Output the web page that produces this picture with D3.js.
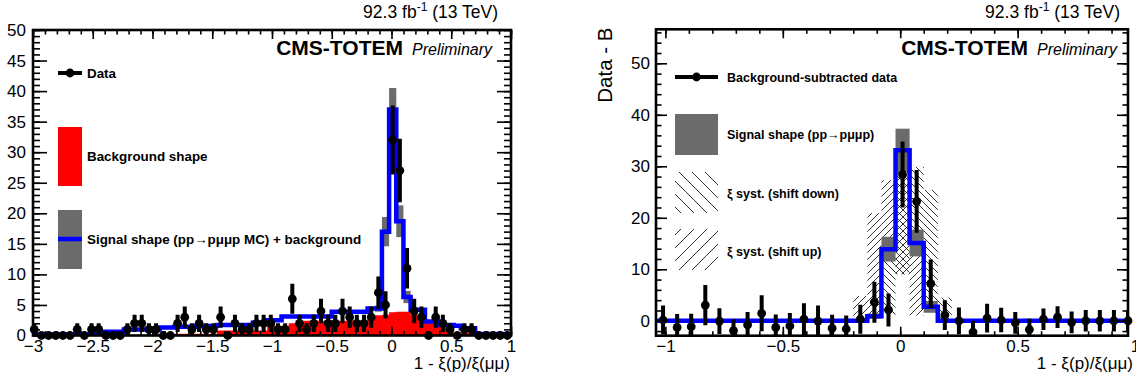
<!DOCTYPE html>
<html>
<head>
<meta charset="utf-8">
<script src="https://cdn.jsdelivr.net/npm/d3@7"></script>
<style>
  body { margin: 0; background: #fff; }
  text { font-family: "Liberation Sans", Arial, Helvetica, sans-serif; }
</style>
</head>
<body>
<div id="chart"></div>
<script>
// binning (both panels use 0.06 wide bins)
const binW = 0.06;
const leftBinLo = -3.02;
const rightBinLo = -1.04;

// left panel: data counts, signal+background, background, MC uncertainty
const leftCounts = [1,0,0,0,0,0,1,0,1,1, 0,0,0,1,2,2,1,1,0,0, 2,3,1,2,1,1,3,0,2,1,
                    1,2,2,2,1,1,6,2,1,2, 4,2,2,4,3,2,2,3,7,5, 32,27,11,4,3,0,3,2,1,0,
                    1,1,0,0,0,0,0];
const leftTotal = [0.2,0.2,0.2,0.2,0.2,0.2,0.2,0.2,0.2,0.2,
                   0.6,0.6,0.6,1.0,1.0,1.0,1.0,1.0,1.3,1.3,
                   1.45,1.45,1.45,1.55,1.55,1.55,1.7,1.7,1.7,1.7,
                   1.7,2.1,2.1,2.5,2.5,3.1,3.1,3.1,3.1,3.1,
                   3.1,3.1,3.9,3.9,3.9,3.9,3.9,4.4,4.4,17.0,
                   37.0,18.7,6.3,4.2,4.2,2.3,2.3,1.7,1.7,1.6,
                   1.2,1.2,0.25,0.25,0.25,0.25,0.25];
const leftBkg = [0,0,0,0,0,0,0,0,0,0,
                 0,0,0,0,0,0,0,0,0,0,
                 0.3,0.3,0.3,0.3,0.3,0.3,0.8,0.8,0.8,0.8,
                 0.8,0.8,0.8,1.6,1.6,1.6,2.0,2.0,2.4,2.4,
                 2.4,2.4,2.4,2.4,2.4,2.4,2.4,2.9,3.3,3.4,
                 3.8,3.9,3.9,3.4,2.8,2.0,2.0,1.5,1.2,0.5,
                 0.5,0.5,0,0,0,0,0];
const leftTotalErr = [0,0,0,0,0,0,0,0,0,0, 0,0,0,0,0,0,0,0,0,0, 0,0,0,0,0,0,0,0,0,0,
                      0,0,0,0,0,0,0,0,0,0, 0,0,0,0,0,0,0,0,0.5,2.4, 3.5,2.6,1.0,0.4,0,0,0,0,0,0,
                      0,0,0,0,0,0,0];

// right panel: background-subtracted data and signal shape
const rightData = [0.15,-1.3,-1.15,3.05,-0.05,-1.9,-0.8,1.45,-1.3,-1.0,
                   0.3,-0.05,-1.45,-1.6,0.3,3.6,2.1,28.4,23.2,7.2,
                   1.1,0,-2.2,0.5,0.15,-0.4,-1.7,0.3,0.7,-0.3,
                   0,0,0,0];
const rightErr = [2.8,2.6,2.5,3.9,2.5,2.2,2.5,3.5,2.5,2.5,
                  3.1,3.0,2.6,2.6,2.8,4.0,3.2,6.4,6.1,4.7,
                  2.9,2.6,2.2,2.8,2.4,2.1,2.1,2.1,2.1,2.1,
                  2.1,2.1,2.1,2.1];
const rightSig = [0,0,0,0,0,0,0,0,0,0, 0,0,0,0,0,0.9,13.9,33.1,15.1,2.7, 0,0,0,0,0,0,0,0,0,0, 0,0,0,0];
const rightSigErr = [0,0,0,0,0,0,0,0,0,0, 0,0,0,0,0,0.5,2.4,4.2,2.6,1.15, 0,0,0,0,0,0,0,0,0,0, 0,0,0,0];

// xi systematic bands (bin index, low, high)
const upBins = [14, 15, 16, 17, 18];
const upLo   = [0, 0.9, 13.9, 9, 1];
const upHi   = [4.8, 20.9, 27.3, 33.1, 15.1];
const downBins = [16, 17, 18, 19, 20];
const downLo   = [1, 9, 15.1, 2.7, 0];
const downHi   = [13.9, 33.1, 29.9, 25.4, 4.5];

// tick values
const leftXTicks = [-3,-2.5,-2,-1.5,-1,-0.5,0,0.5,1];
const leftYTicks = [0,5,10,15,20,25,30,35,40,45,50];
const rightXTicks = [-1,-0.5,0,0.5,1];
const rightYTicks = [0,10,20,30,40,50];

const W = 1136, H = 379;
const svg = d3.select("#chart").append("svg")
    .attr("width", W)
    .attr("height", H);

const defs = svg.append("defs");
function hatch(id, size, down) {
    defs.append("pattern")
        .attr("id", id)
        .attr("patternUnits", "userSpaceOnUse")
        .attr("width", size).attr("height", size)
        .append("path")
        .attr("d", down
            ? `M0,0L${size},${size}M${-size/2},${size/2}L0,${size}M${size},0L${size*1.5},${size/2}`
            : `M0,${size}L${size},0M${-size/2},${size/2}L0,0M${size},${size}L${size*1.5},${size/2}`)
        .attr("stroke", "#000")
        .attr("stroke-width", 0.8);
}
hatch("hUp", 7, false);
hatch("hDown", 7, true);
hatch("hUpLeg", 13, false);
hatch("hDownLeg", 13, true);

const GRAY = "#6b6b6b";
const fmt = d3.format("~g");

function frame(x, y, o) {
    const g = svg.append("g").attr("stroke-width", 1.6);
    const [xa, xb] = x.range();
    const [yb, ya] = y.range();
    const [d0, d1] = x.domain();
    const [e0, e1] = y.domain();
    const xMinor = d3.range(Math.ceil(d0 * 10), Math.floor(d1 * 10) + 1).map(i => i / 10);
    const yMinor = d3.range(Math.ceil(e0 / o.yMinStep), Math.floor(e1 / o.yMinStep) + 1).map(i => i * o.yMinStep);
    const xIn = o.xTicks.filter(v => v >= d0 && v <= d1);

    const style = sel => {
        sel.select(".domain").remove();
        sel.attr("font-family", null).attr("font-size", 17);
        sel.selectAll(".tick line").attr("stroke", "#000");
        sel.selectAll(".tick text").attr("fill", "#000");
    };

    // bottom (with labels) and top
    g.append("g").attr("transform", `translate(0,${yb})`)
        .call(d3.axisBottom(x).tickValues(o.xTicks).tickSize(-9).tickPadding(4).tickFormat(fmt))
        .call(style)
        .call(s => s.selectAll(".tick").filter(v => v > d1 + 1e-9).select("line").remove());
    g.append("g").attr("transform", `translate(0,${yb})`)
        .call(d3.axisBottom(x).tickValues(xMinor).tickSize(-4.5).tickFormat(""))
        .call(style);
    g.append("g").attr("transform", `translate(0,${ya})`)
        .call(d3.axisTop(x).tickValues(xIn).tickSize(-9).tickFormat(""))
        .call(style);
    g.append("g").attr("transform", `translate(0,${ya})`)
        .call(d3.axisTop(x).tickValues(xMinor).tickSize(-4.5).tickFormat(""))
        .call(style);

    // left (with labels) and right
    g.append("g").attr("transform", `translate(${xa},0)`)
        .call(d3.axisLeft(y).tickValues(o.yTicks).tickSize(-o.yMaj).tickPadding(o.yPad).tickFormat(fmt))
        .call(style);
    g.append("g").attr("transform", `translate(${xa},0)`)
        .call(d3.axisLeft(y).tickValues(yMinor).tickSize(-o.yMaj / 2).tickFormat(""))
        .call(style);
    g.append("g").attr("transform", `translate(${xb},0)`)
        .call(d3.axisRight(y).tickValues(o.yTicks).tickSize(-o.yMaj).tickFormat(""))
        .call(style);
    g.append("g").attr("transform", `translate(${xb},0)`)
        .call(d3.axisRight(y).tickValues(yMinor).tickSize(-o.yMaj / 2).tickFormat(""))
        .call(style);

    svg.append("rect")
        .attr("x", xa).attr("y", ya)
        .attr("width", xb - xa).attr("height", yb - ya)
        .attr("fill", "none")
        .attr("stroke", "#000")
        .attr("stroke-width", 2.6);
}

function stepPath(x, y, lo, vals) {
    const pts = [];
    vals.forEach((v, i) => {
        pts.push([x(lo + i * binW), y(v)]);
        pts.push([x(lo + (i + 1) * binW), y(v)]);
    });
    return d3.line()(pts);
}

function headers(xEnd, cmsEnd) {
    const t = svg.append("text")
        .attr("x", xEnd).attr("y", 18)
        .attr("text-anchor", "end")
        .attr("font-size", 17.5);
    t.append("tspan").text("92.3 fb");
    t.append("tspan").attr("dy", -7).attr("font-size", 12).text("-1");
    t.append("tspan").attr("dy", 7).text(" (13 TeV)");

    const c = svg.append("text")
        .attr("x", cmsEnd).attr("y", 55)
        .attr("text-anchor", "end");
    c.append("tspan").attr("font-weight", "bold").attr("font-size", 21).text("CMS-TOTEM");
    c.append("tspan").attr("font-style", "italic").attr("font-size", 16).attr("dx", 9).text("Preliminary");
}

function xTitle(xEnd) {
    svg.append("text")
        .attr("x", xEnd).attr("y", 369)
        .attr("text-anchor", "end")
        .attr("font-size", 17)
        .text("1 - ξ(p)/ξ(μμ)");
}

// error bars go in the clipped group, markers are drawn on top unclipped
function drawPoints(gClip, gTop, x, y, lo, vals, errs) {
    const pts = vals.map((v, i) => ({ x: lo + (i + 0.5) * binW, v, e: errs[i] }))
        .filter(d => d.x <= x.domain()[1] + 1e-9);
    gClip.selectAll(null)
        .data(pts.filter(d => d.e > 0))
        .join("line")
        .attr("x1", d => x(d.x)).attr("x2", d => x(d.x))
        .attr("y1", d => y(d.v - d.e)).attr("y2", d => y(d.v + d.e))
        .attr("stroke", "#000")
        .attr("stroke-width", 4);
    gTop.selectAll(null)
        .data(pts)
        .join("circle")
        .attr("cx", d => x(d.x)).attr("cy", d => y(d.v))
        .attr("r", 4.4)
        .attr("fill", "#000");
}

// ---------------- left panel ----------------
const xL = d3.scaleLinear().domain([-3, 1]).range([33, 511]);
const yL = d3.scaleLinear().domain([0, 50]).range([335.5, 30]);

defs.append("clipPath").attr("id", "clipL")
    .append("rect").attr("x", 33).attr("y", 30).attr("width", 478).attr("height", 305.5);
defs.append("clipPath").attr("id", "clipR")
    .append("rect").attr("x", 656).attr("y", 29.3).attr("width", 472).attr("height", 306.4);

const gL = svg.append("g").attr("clip-path", "url(#clipL)");

// background fill
const bkgPts = [[xL(leftBinLo), yL(0)]];
leftBkg.forEach((v, i) => {
    bkgPts.push([xL(leftBinLo + i * binW), yL(v)]);
    bkgPts.push([xL(leftBinLo + (i + 1) * binW), yL(v)]);
});
bkgPts.push([xL(leftBinLo + leftBkg.length * binW), yL(0)]);
gL.append("path")
    .attr("d", d3.line()(bkgPts) + "Z")
    .attr("fill", "#ff0000");

// MC uncertainty boxes
gL.selectAll(null)
    .data(leftTotal.map((v, i) => ({ i, v, e: leftTotalErr[i] })).filter(d => d.e > 0))
    .join("rect")
    .attr("x", d => xL(leftBinLo + d.i * binW))
    .attr("width", xL(binW) - xL(0))
    .attr("y", d => yL(d.v + d.e))
    .attr("height", d => yL(d.v - d.e) - yL(d.v + d.e))
    .attr("fill", GRAY);

gL.append("path")
    .attr("d", stepPath(xL, yL, leftBinLo, leftTotal))
    .attr("fill", "none")
    .attr("stroke", "#0000ff")
    .attr("stroke-width", 4.5);

frame(xL, yL, { xTicks: leftXTicks, yTicks: leftYTicks, yMinStep: 1, yMaj: 14, yPad: 7 });
const gLTop = svg.append("g");
drawPoints(gL, gLTop, xL, yL, leftBinLo, leftCounts, leftCounts.map(Math.sqrt));
headers(498, 492);
xTitle(510);

// left legend
const legL = svg.append("g");
legL.append("line").attr("x1", 58).attr("x2", 82).attr("y1", 73).attr("y2", 73)
    .attr("stroke", "#000").attr("stroke-width", 4);
legL.append("circle").attr("cx", 70).attr("cy", 73).attr("r", 4.4);
legL.append("text").attr("x", 87).attr("y", 77.5).attr("font-size", 13.4).attr("font-weight", "bold").text("Data");
legL.append("rect").attr("x", 58).attr("y", 127).attr("width", 24).attr("height", 59).attr("fill", "#ff0000");
legL.append("text").attr("x", 87).attr("y", 160.5).attr("font-size", 13.4).attr("font-weight", "bold").text("Background shape");
legL.append("rect").attr("x", 58).attr("y", 210).attr("width", 24).attr("height", 59).attr("fill", GRAY);
legL.append("line").attr("x1", 58).attr("x2", 82).attr("y1", 239).attr("y2", 239)
    .attr("stroke", "#0000ff").attr("stroke-width", 4.5);
legL.append("text").attr("x", 87).attr("y", 243.5).attr("font-size", 13.4).attr("font-weight", "bold")
    .text("Signal shape (pp→pμμp MC) + background");

// ---------------- right panel ----------------
const xR = d3.scaleLinear().domain([-1.04, 0.97]).range([656, 1128]);
const yR = d3.scaleLinear().domain([-2.9, 56.6]).range([335.7, 29.3]);

const gR = svg.append("g").attr("clip-path", "url(#clipR)");

function band(bins, lo, hi, fill) {
    gR.selectAll(null)
        .data(bins.map((b, i) => ({ b, lo: lo[i], hi: hi[i] })))
        .join("rect")
        .attr("x", d => xR(rightBinLo + d.b * binW))
        .attr("width", xR(binW) - xR(0))
        .attr("y", d => yR(d.hi))
        .attr("height", d => yR(d.lo) - yR(d.hi))
        .attr("fill", fill);
}
band(upBins, upLo, upHi, "url(#hUp)");
band(downBins, downLo, downHi, "url(#hDown)");

gR.selectAll(null)
    .data(rightSig.map((v, i) => ({ i, v, e: rightSigErr[i] })).filter(d => d.e > 0))
    .join("rect")
    .attr("x", d => xR(rightBinLo + d.i * binW))
    .attr("width", xR(binW) - xR(0))
    .attr("y", d => yR(d.v + d.e))
    .attr("height", d => yR(d.v - d.e) - yR(d.v + d.e))
    .attr("fill", GRAY);

gR.append("path")
    .attr("d", stepPath(xR, yR, rightBinLo, rightSig))
    .attr("fill", "none")
    .attr("stroke", "#0000ff")
    .attr("stroke-width", 4.5);

frame(xR, yR, { xTicks: rightXTicks, yTicks: rightYTicks, yMinStep: 2, yMaj: 11, yPad: 6 });
const gRTop = svg.append("g");
drawPoints(gR, gRTop, xR, yR, rightBinLo, rightData, rightErr);
headers(1120, 1117);
xTitle(1133);

svg.append("text")
    .attr("transform", "translate(611.5,27.5) rotate(-90)")
    .attr("text-anchor", "end")
    .attr("font-size", 20.5)
    .text("Data - B");

// right legend
const legR = svg.append("g");
legR.append("line").attr("x1", 675).attr("x2", 718).attr("y1", 77).attr("y2", 77)
    .attr("stroke", "#000").attr("stroke-width", 4);
legR.append("circle").attr("cx", 696.5).attr("cy", 77).attr("r", 4.4);
legR.append("text").attr("x", 727).attr("y", 81.5).attr("font-size", 12.5).attr("font-weight", "bold")
    .text("Background-subtracted data");
legR.append("rect").attr("x", 675).attr("y", 114).attr("width", 43).attr("height", 41).attr("fill", GRAY);
legR.append("text").attr("x", 727).attr("y", 139).attr("font-size", 12.5).attr("font-weight", "bold")
    .text("Signal shape (pp→pμμp)");
legR.append("rect").attr("x", 675).attr("y", 172).attr("width", 43).attr("height", 41).attr("fill", "url(#hDownLeg)");
legR.append("text").attr("x", 727).attr("y", 197.5).attr("font-size", 12.5).attr("font-weight", "bold")
    .text("ξ syst. (shift down)");
legR.append("rect").attr("x", 675).attr("y", 229).attr("width", 43).attr("height", 41).attr("fill", "url(#hUpLeg)");
legR.append("text").attr("x", 727).attr("y", 255.5).attr("font-size", 12.5).attr("font-weight", "bold")
    .text("ξ syst. (shift up)");
</script>
</body>
</html>
